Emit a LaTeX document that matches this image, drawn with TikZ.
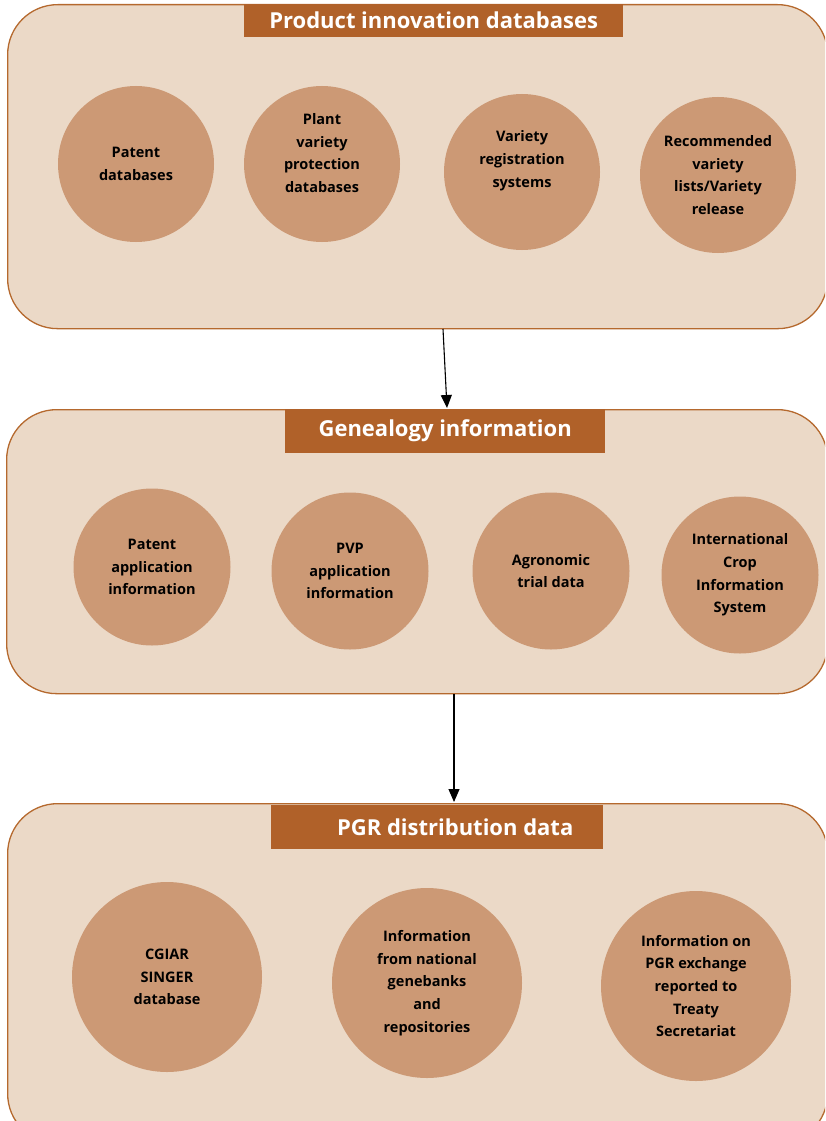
\documentclass[tikz,border=0pt]{standalone}
\usepackage{fontspec}
\setmainfont{Open Sans}
\usetikzlibrary{arrows.meta}
\definecolor{panelfill}{rgb}{0.92, 0.85, 0.78}
\definecolor{paneledge}{rgb}{0.71, 0.41, 0.18}
\definecolor{titlebrown}{rgb}{0.69, 0.38, 0.16}
\definecolor{discfill}{rgb}{0.80, 0.60, 0.46}
\tikzset{
  panel/.style={draw=paneledge, fill=panelfill, line width=1.3pt, rounded corners=50pt, anchor=north west, inner sep=0pt},
  paneltitle/.style={fill=titlebrown, text=white, font=\fontsize{22}{26}\selectfont\bfseries, anchor=north west, inner sep=0pt},
  disc/.style={circle, fill=discfill, align=center, inner sep=0pt, font=\fontsize{14.5}{22.7}\selectfont\bfseries},
  flow/.style={-{Triangle[length=13pt,width=11pt]}, line width=1.1pt},
}

\begin{document}
\begin{tikzpicture}[x=1pt,y=-1pt]
      \useasboundingbox (0,0) rectangle (825,1121);
      \clip (0,0) rectangle (825,1121);

      % the three panels
      \node [panel, minimum width=820, minimum height=324] (prodpanel) at (7,4) {};
      \node [panel, minimum width=821, minimum height=284] (genpanel) at (6,409) {};
      \node [panel, minimum width=820, minimum height=340] (pgrpanel) at (7,803) {};

      \node [paneltitle, minimum width=379, minimum height=33] (prodtitle) at (244,4) {Product innovation databases};
      \node [paneltitle, minimum width=320, minimum height=44] (gentitle) at (285,409) {Genealogy information};
      \node [paneltitle, minimum width=332, minimum height=44] (pgrtitle) at (271,805) {\hspace*{36pt}PGR distribution data};

      % product innovation databases
      \node [disc, minimum size=156] (pa) at (136,164) {Patent\\databases};
      \node [disc, minimum size=156, text depth=22pt] (pb) at (322,164) {Plant\\variety\\protection\\databases};
      \node [disc, minimum size=156, text depth=26pt] (pc) at (522,172) {Variety\\registration\\systems};
      \node [disc, minimum size=156] (pd) at (718,175) {Recommended\\variety\\lists/Variety\\release};

      % genealogy information
      \node [disc, minimum size=157] (ga) at (152,567) {Patent\\application\\information};
      \node [disc, minimum size=157] (gb) at (350,571) {PVP\\application\\information};
      \node [disc, minimum size=157] (gc) at (551,571) {Agronomic\\trial data};
      \node [disc, minimum size=157] (gd) at (740,575) {International\\Crop\\Information\\System};

      % PGR distribution data
      \node [disc, minimum size=190] (da) at (167,977) {CGIAR\\SINGER\\database};
      \node [disc, minimum size=190] (db) at (427,983) {Information\\from national\\genebanks\\and\\repositories};
      \node [disc, minimum size=190] (dc) at (696,986) {Information on\\PGR exchange\\reported to\\Treaty\\Secretariat};

      \coordinate (flowA) at (443,329);
      \coordinate (flowB) at (447,408);
      \coordinate (flowC) at (454,694);
      \coordinate (flowD) at (454,802);
      \draw [flow] (flowA) -- (flowB);
      \draw [flow] (flowC) -- (flowD);
    \end{tikzpicture}
\end{document}
